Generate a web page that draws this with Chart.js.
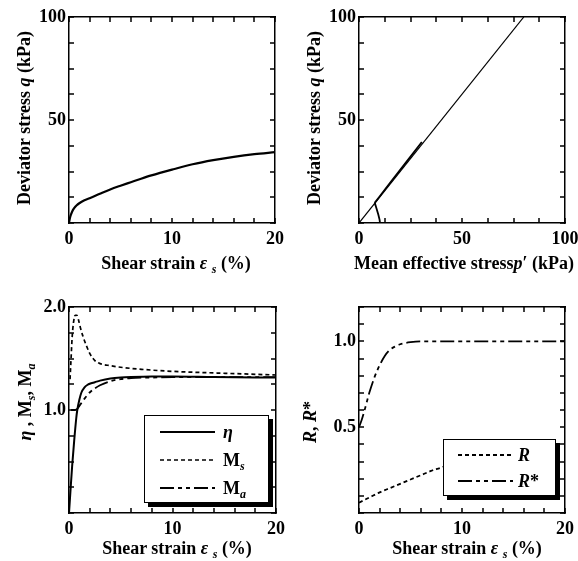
<!DOCTYPE html>
<html lang="en">
<head>
<meta charset="UTF-8">
<title>Stress-strain panels</title>
<script src="https://cdn.jsdelivr.net/npm/chart.js"></script>
<style>
  body { margin: 0; background: #fff; }
  #page { position: relative; width: 578px; height: 561px; font-family: "Liberation Serif", serif; color: #000; overflow: hidden; }
  canvas { position: absolute; left: 0; top: 0; }
  .xt, .yt { position: absolute; font-size: 18px; font-weight: bold; white-space: nowrap; line-height: 1; }
  .xt { transform: translate(-50%, -50%); }
  .yt { transform: translate(-50%, -50%) rotate(-90deg); }
  sub { font-size: 12px; vertical-align: -4px; line-height: 0; }
  .leg { position: absolute; background: #fff; border: 1.5px solid #000; box-shadow: 4px 4px 0 #000; }
  .leg svg { position: absolute; left: 0; top: 0; }
  .leg span { position: absolute; font-size: 18px; font-weight: bold; line-height: 1; transform: translateY(-50%); white-space: nowrap; }
</style>
</head>
<body>
<div id="page">
  <canvas id="c1" width="578" height="561"></canvas>
  <canvas id="c2" width="578" height="561"></canvas>
  <canvas id="c3" width="578" height="561"></canvas>
  <canvas id="c4" width="578" height="561"></canvas>

  <div class="yt" style="left:24px; top:118px">Deviator stress <i>q</i> (kPa)</div>
  <div class="xt" style="left:176px; top:263px">Shear strain <i>ε</i> <sub><i>s</i></sub> (%)</div>

  <div class="yt" style="left:314px; top:118px">Deviator stress <i>q</i> (kPa)</div>
  <div class="xt" style="left:464px; top:263px">Mean effective stress<i>p</i>′ (kPa)</div>

  <div class="yt" style="left:25px; top:402px"><i>η</i> , M<sub><i>s</i></sub>, M<sub><i>a</i></sub></div>
  <div class="xt" style="left:177px; top:548px">Shear strain <i>ε</i> <sub><i>s</i></sub> (%)</div>

  <div class="yt" style="left:310px; top:422px"><i>R</i>, <i>R</i>*</div>
  <div class="xt" style="left:467px; top:548px">Shear strain <i>ε</i> <sub><i>s</i></sub> (%)</div>

  <div class="leg" id="leg3" style="left:144px; top:415px; width:123px; height:86px"></div>
  <div class="leg" id="leg4" style="left:443px; top:439px; width:111px; height:55px"></div>
</div>

<script>
// panel 1: q against shear strain
const strainQ = [0, 0.05, 0.15, 0.3, 0.5, 0.75, 1, 1.5, 2, 3, 4, 5, 6, 7, 8, 10, 12, 14, 16, 18, 20];
const devQ = [0, 1.5, 3.5, 5.5, 7.2, 8.6, 9.6, 11, 12, 14.2, 16.3, 18.1, 19.8, 21.5, 23.1, 25.9, 28.5, 30.5, 32.1, 33.4, 34.4];

// panel 2: stress path and failure line
const lineP = [0, 80];
const lineQ = [0, 100];
const pathP = [10.2, 10, 9.4, 8.5, 7.9, 7.8, 10, 15, 20, 25, 30.5];
const pathQ = [0, 1.5, 4, 7, 9, 10, 12.9, 19.4, 25.8, 32.2, 39.3];

// panel 3: eta, Ms, Ma
const etaStrain = [0, 0.1, 0.3, 0.5, 0.7, 0.8, 1.0, 1.2, 1.5, 1.8, 2, 2.5, 3, 4, 5, 6, 8, 10, 14, 20];
const eta = [0, 0.15, 0.45, 0.7, 0.92, 1.0, 1.1, 1.17, 1.22, 1.245, 1.255, 1.27, 1.285, 1.305, 1.315, 1.32, 1.325, 1.325, 1.32, 1.315];
const msStrain = [0.1, 0.2, 0.3, 0.45, 0.6, 0.75, 0.9, 1.1, 1.4, 1.7, 2, 2.5, 3, 4, 5, 7, 10, 14, 20];
const ms = [1.3, 1.5, 1.7, 1.86, 1.92, 1.92, 1.88, 1.8, 1.7, 1.62, 1.55, 1.48, 1.45, 1.43, 1.415, 1.395, 1.375, 1.36, 1.34];
const maStrain = [0.2, 0.6, 0.8, 1.0, 1.5, 2, 2.5, 3, 4, 5, 6, 8, 10, 14, 20];
const ma = [1.0, 1.0, 1.01, 1.04, 1.11, 1.17, 1.21, 1.24, 1.28, 1.3, 1.31, 1.315, 1.32, 1.32, 1.32];

// panel 4: R, R*
const rStarStrain = [0, 0.25, 0.5, 0.75, 1, 1.5, 2, 2.5, 3, 3.5, 4, 5, 6, 8, 10, 15, 20];
const rStar = [0.5, 0.54, 0.59, 0.645, 0.7, 0.79, 0.86, 0.915, 0.95, 0.97, 0.983, 0.995, 1.0, 1.0, 1.0, 1.0, 1.0];
const rStrain = [0, 1, 2, 3, 4, 5, 6, 7, 8, 9, 10, 12];
const rVal = [0.06, 0.09, 0.12, 0.145, 0.17, 0.195, 0.22, 0.245, 0.265, 0.29, 0.31, 0.35];

// tick labels
const strainLabels = [0, 10, 20];
const stressLabels = [50, 100];
const pLabels = [0, 50, 100];
const ratioLabels = [1, 2];
const rLabels = [0.5, 1];

const DOT = [4, 3];
const DASHDOT = [14, 4, 4, 4, 4, 4];

const W = 578, H = 561;
const AXW = 50, AXH = 40;
const TICK = 5;
const tickFont = { family: '"Liberation Serif", serif', size: 18, weight: 'bold' };

function axis(pos, min, max, step, labels, fmt, size, pad) {
    var horiz = pos === 'top' || pos === 'bottom';
    return {
        type: 'linear', position: pos, min: min, max: max,
        border: { display: true, color: '#000', width: 1.5 },
        grid: { display: false, drawTicks: false },
        ticks: {
            display: labels.length > 0,
            stepSize: step, autoSkip: false, maxRotation: 0, padding: pad,
            color: '#000', font: tickFont,
            callback: function (v) {
                var hit = labels.find(l => Math.abs(l - v) < 1e-6);
                return hit === undefined ? '' : fmt(hit);
            }
        },
        afterFit: function (s) {
            if (horiz) s.height = size; else s.width = size;
            s.paddingLeft = s.paddingRight = s.paddingTop = s.paddingBottom = 0;
        }
    };
}

// short tick marks pointing into the plot, on all four sides
const inwardTicks = {
    id: 'inwardTicks',
    afterDraw(chart) {
        var ctx = chart.ctx, a = chart.chartArea;
        var sx = chart.scales.x, sy = chart.scales.y;
        ctx.save();
        ctx.strokeStyle = '#000';
        ctx.lineWidth = 1.5;
        ctx.beginPath();
        sx.ticks.forEach(t => {
            var px = Math.round(sx.getPixelForValue(t.value));
            ctx.moveTo(px, a.bottom); ctx.lineTo(px, a.bottom - TICK);
            ctx.moveTo(px, a.top); ctx.lineTo(px, a.top + TICK);
        });
        sy.ticks.forEach(t => {
            var py = Math.round(sy.getPixelForValue(t.value));
            ctx.moveTo(a.left, py); ctx.lineTo(a.left + TICK, py);
            ctx.moveTo(a.right, py); ctx.lineTo(a.right - TICK, py);
        });
        ctx.stroke();
        ctx.restore();
    }
};

function series(xs, ys, width, dash, smooth) {
    return {
        data: xs.map((x, i) => ({ x: x, y: ys[i] })),
        showLine: true, pointRadius: 0, borderColor: '#000', borderWidth: width,
        borderDash: dash || [], cubicInterpolationMode: smooth ? 'monotone' : 'default', tension: 0,
        xAxisID: 'x', yAxisID: 'y'
    };
}

function panel(id, box, xr, yr, datasets) {
    new Chart(document.getElementById(id), {
        type: 'scatter',
        data: { datasets: datasets },
        options: {
            responsive: false, animation: false, events: [],
            layout: { padding: { left: box[0] - AXW, top: box[1], right: W - box[2], bottom: H - box[3] - AXH } },
            plugins: { legend: { display: false }, tooltip: { enabled: false } },
            scales: {
                x: axis('bottom', xr[0], xr[1], xr[2], xr[3], xr[4], AXH, 6),
                y: axis('left', yr[0], yr[1], yr[2], yr[3], yr[4], AXW, 3),
                x2: axis('top', xr[0], xr[1], xr[2], [], null, 0, 0),
                y2: axis('right', yr[0], yr[1], yr[2], [], null, 0, 0)
            }
        },
        plugins: [inwardTicks]
    });
}

const plain = v => String(v);
const oneDec = v => v.toFixed(1);

panel('c1', [69, 17, 275, 223], [0, 20, 2, strainLabels, plain], [0, 100, 12.5, stressLabels, plain], [
    series(strainQ, devQ, 2.2, null, true)
]);
panel('c2', [359, 17, 565, 223], [0, 100, 12.5, pLabels, plain], [0, 100, 12.5, stressLabels, plain], [
    series(lineP, lineQ, 1.2),
    series(pathP, pathQ, 1.8)
]);
panel('c3', [69, 307, 276, 513], [0, 20, 2, strainLabels, plain], [0, 2, 0.25, ratioLabels, oneDec], [
    series(etaStrain, eta, 2, null, true),
    series(msStrain, ms, 1.7, DOT, true),
    series(maStrain, ma, 1.8, DASHDOT, true)
]);
panel('c4', [359, 307, 565, 513], [0, 20, 2, strainLabels, plain], [0, 1.2, 0.1, rLabels, oneDec], [
    series(rStrain, rVal, 1.8, DOT, true),
    series(rStarStrain, rStar, 1.8, DASHDOT, true)
]);

// legends drawn as html boxes over the charts
function legend(id, rows, x1, x2, tx) {
    var box = document.getElementById(id);
    var svg = '<svg width="' + box.clientWidth + '" height="' + box.clientHeight + '">';
    rows.forEach(r => {
        svg += '<line x1="' + x1 + '" x2="' + x2 + '" y1="' + r.y + '" y2="' + r.y + '" stroke="#000" stroke-width="' + r.w +
            '" stroke-dasharray="' + r.dash.join(' ') + '"/>';
    });
    svg += '</svg>';
    box.innerHTML = svg + rows.map(r => '<span style="left:' + tx + 'px; top:' + r.y + 'px">' + r.label + '</span>').join('');
}
legend('leg3', [
    { y: 16, w: 2, dash: [], label: '<i>η</i>' },
    { y: 44, w: 1.7, dash: DOT, label: 'M<sub><i>s</i></sub>' },
    { y: 72, w: 1.8, dash: DASHDOT, label: 'M<sub><i>a</i></sub>' }
], 15, 70, 78);
legend('leg4', [
    { y: 15, w: 1.8, dash: DOT, label: '<i>R</i>' },
    { y: 41, w: 1.8, dash: DASHDOT, label: '<i>R</i>*' }
], 14, 69, 74);
</script>
</body>
</html>
